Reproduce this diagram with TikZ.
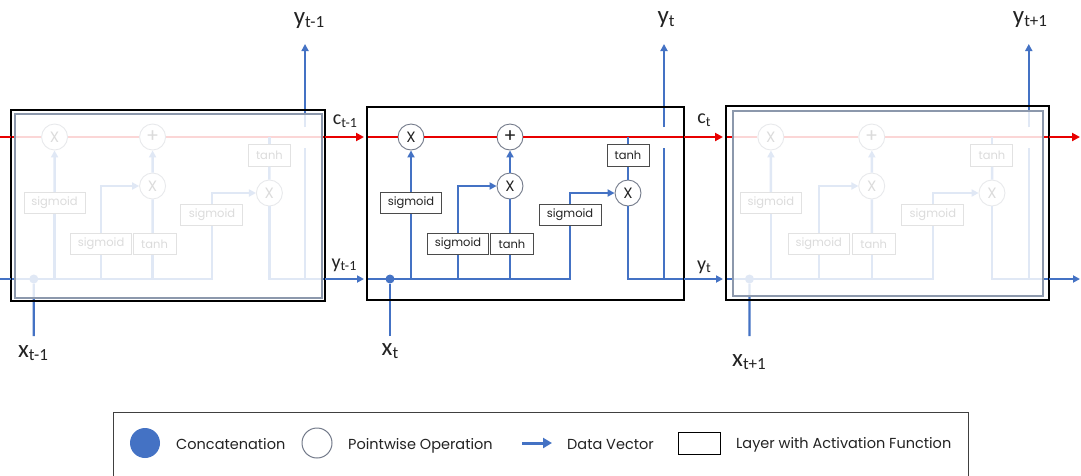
\documentclass[tikz,border=0pt]{standalone}
\usepackage{fontspec}
\setmainfont{Carlito}
\newfontfamily\gfont{Poppins}
\usetikzlibrary{arrows.meta}
\definecolor{lblue}{RGB}{68,114,196}
\definecolor{lred}{RGB}{232,0,0}
\definecolor{framec}{RGB}{140,152,172}
\definecolor{boxc}{RGB}{75,75,75}
\definecolor{txtc}{RGB}{35,35,35}
\definecolor{opc}{RGB}{115,122,138}
\newcommand{\vlab}[4]{{\fontsize{#3}{#3}\selectfont #1}\raisebox{-0.25em}{\fontsize{#4}{#4}\selectfont #2}}
\tikzset{
  op/.style={circle, draw=opc, line width=0.9pt, fill=white, minimum size=26pt, inner sep=0pt, font=\gfont\fontsize{15}{15}\selectfont, text=txtc},
  gate/.style={rectangle, draw=boxc, line width=1pt, fill=white, minimum height=21pt, inner sep=0pt, font=\gfont\fontsize{11.5}{11.5}\selectfont, text=txtc},
  dot/.style={circle, fill=lblue, minimum size=9pt, inner sep=0pt},
  redline/.style={draw=lred, line width=2.7pt},
  bline/.style={draw=lblue, line width=2.4pt},
  barr/.style={bline, -{Triangle[length=7pt,width=7pt]}},
  redarr/.style={redline, -{Triangle[length=8pt,width=8pt]}},
  cellbox/.style={draw=black, line width=1.8pt},
  innerframe/.style={draw=framec, line width=1.2pt},
  fade/.style={fill=white, fill opacity=0.84},
  lab/.style={text=txtc, inner sep=0pt},
  leg/.style={anchor=base west, font=\gfont\fontsize{14.5}{14.5}\selectfont, text=txtc, inner sep=0pt}
}
\newcommand{\cellbody}{%
  \coordinate (redin) at (367,137);
  \coordinate (redout) at (684,137);
  \coordinate (bin) at (367,279);
  \coordinate (bout) at (684,279);
  \coordinate (xin) at (390,336);
  \coordinate (ybot) at (664,279);
  \coordinate (ylow) at (664,148);
  \coordinate (yhigh) at (664,127);
  \coordinate (ytop) at (664,44);
  \node[op] (f) at (411,137) {X};
  \node[op, font=\gfont\fontsize{19}{19}\selectfont] (p) at (510,137) {+};
  \node[op] (i) at (510,186) {X};
  \node[op] (o) at (628,193) {X};
  \node[gate, minimum width=61pt] (s1) at (411,203) {sigmoid};
  \node[gate, minimum width=61pt] (s2) at (458,244) {sigmoid};
  \node[gate, minimum width=43pt] (t1) at (512,244) {tanh};
  \node[gate, minimum width=62pt] (s3) at (570,215) {sigmoid};
  \node[gate, minimum width=42pt, minimum height=22pt] (t2) at (628,155) {tanh};
  \node[dot] (cat) at (390,279) {};
  \draw[redline] (redin) -- (f) -- (p) -- (redout);
  \draw[bline] (bin) -| (s3.south);
  \draw[bline] (xin) -- (cat);
  \draw[bline] (s1.south |- bin) -- (s1.south);
  \draw[barr] (s1.north) -- (f);
  \draw[bline] (s2.south |- bin) -- (s2.south);
  \draw[barr] (s2.north) |- (i);
  \draw[bline] (i.south |- bin) -- (i.south |- t1.south);
  \draw[bline] (i.south |- t1.north) -- (i);
  \draw[barr] (i) -- (p);
  \draw[barr] (s3.north) |- (o);
  \draw[bline] (t2.north |- p) -- (t2.north);
  \draw[bline] (t2.south) -- (o);
  \draw[bline] (o) |- (bout);
  \draw[bline] (ybot) -- (ylow);
  \draw[barr] (yhigh) -- (ytop);
}
\begin{document}
\begin{tikzpicture}[x=1pt,y=-1pt]
\useasboundingbox[fill=white] (0,0) rectangle (1081,475);

% left (faded) cell
\begin{scope}[name prefix=L-, xshift=-352.33pt, xscale=0.99]
  \cellbody
\end{scope}
\fill[fade] (15,114) rectangle (322,298);
\draw[innerframe] (15,114) rectangle (322,298);
\draw[cellbox] (11,110) rectangle (325,301);

% middle cell
\begin{scope}[name prefix=M-]
  \cellbody
\end{scope}
\draw[cellbox] (367,107) rectangle (684,300);

% right (faded) cell
\begin{scope}[name prefix=R-, xshift=352.03pt, xscale=1.019]
  \cellbody
\end{scope}
\fill[fade] (733,111) rectangle (1043,296);
\draw[innerframe] (733,111) rectangle (1043,296);
\draw[cellbox] (726,106) rectangle (1049,300);

% connections between cells
\coordinate (redstart) at (0,137);
\coordinate (bstart) at (0,279);
\coordinate (redend) at (1081,137);
\coordinate (bend) at (1081,279);
\draw[redline] (redstart) -- (L-redin);
\draw[bline] (bstart) -- (L-bin);
\draw[redarr, shorten >=3pt] (L-redout) -- (M-redin);
\draw[barr, shorten >=3pt] (L-bout) -- (M-bin);
\draw[redarr, shorten >=3pt] (M-redout) -- (R-redin);
\draw[barr, shorten >=3pt] (M-bout) -- (R-bin);
\draw[redarr, shorten >=1pt] (R-redout) -- (redend);
\draw[barr, shorten >=1pt] (R-bout) -- (bend);

% labels
\node[lab] (ly1) at (309,21) {\vlab{y}{t-1}{25}{17}};
\node[lab] (ly2) at (666,20) {\vlab{y}{t}{25}{17}};
\node[lab] (ly3) at (1030,20) {\vlab{y}{t+1}{25}{17}};
\node[lab] (lx1) at (33,353) {\vlab{x}{t-1}{25}{17}};
\node[lab] (lx2) at (390,351) {\vlab{x}{t}{25}{17}};
\node[lab] (lx3) at (749,362) {\vlab{x}{t+1}{25}{17}};
\node[lab] (lc1) at (345,121) {\vlab{c}{t-1}{20}{14}};
\node[lab] (lc2) at (704,120) {\vlab{c}{t}{20}{14}};
\node[lab] (lh1) at (344,265) {\vlab{y}{t-1}{20}{14}};
\node[lab] (lh2) at (704,267) {\vlab{y}{t}{20}{14}};

% legend
\draw[draw=black!75, line width=0.9pt] (113,476) -- (113,412) -- (968,412) -- (968,476);
\node[circle, fill=lblue, minimum size=30pt, inner sep=0pt] (lgcat) at (145,443) {};
\node[leg] (lgcatt) at (176,449) {Concatenation};
\node[circle, draw=opc, line width=1pt, minimum size=30pt, inner sep=0pt] (lgop) at (317,443) {};
\node[leg] (lgopt) at (348,449) {Pointwise Operation};
\coordinate (lga1) at (522,443);
\coordinate (lga2) at (552,443);
\draw[bline, line width=3pt, -{Triangle[length=9pt,width=10pt]}] (lga1) -- (lga2);
\node[leg] (lgat) at (567,449) {Data Vector};
\node[rectangle, draw=black, line width=0.9pt, minimum width=42pt, minimum height=22pt, inner sep=0pt] (lgbox) at (699,443) {};
\node[leg] (lgboxt) at (736,448) {Layer with Activation Function};
\end{tikzpicture}
\end{document}
